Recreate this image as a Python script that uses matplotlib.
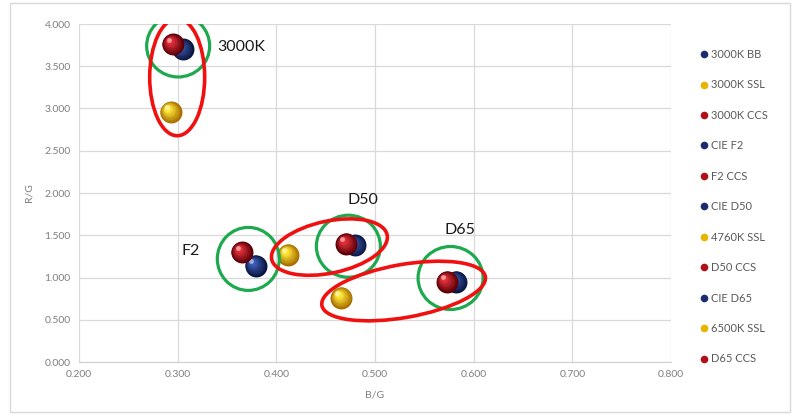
import matplotlib.pyplot as plt
import numpy as np
from matplotlib.patches import Ellipse, Rectangle
from matplotlib.lines import Line2D
from matplotlib.transforms import ScaledTranslation
from matplotlib.colors import to_rgb

plt.rcParams['font.family'] = ['Lato', 'DejaVu Sans']

# series: name, B/G, R/G, colour group
names = ['3000K BB', '3000K SSL', '3000K CCS', 'CIE F2', 'F2 CCS', 'CIE D50',
         '4760K SSL', 'D50 CCS', 'CIE D65', '6500K SSL', 'D65 CCS']
bg = [0.305, 0.293, 0.295, 0.379, 0.365, 0.480, 0.412, 0.471, 0.582, 0.466, 0.573]
rg = [3.70, 2.96, 3.76, 1.14, 1.30, 1.38, 1.27, 1.40, 0.95, 0.76, 0.95]
kind = ['bb', 'ssl', 'ccs', 'bb', 'ccs', 'bb', 'ssl', 'ccs', 'bb', 'ssl', 'ccs']

# group labels
lbl_text = ['3000K', 'F2', 'D50', 'D65']
lbl_x = [0.340, 0.313, 0.488, 0.586]
lbl_y = [3.73, 1.31, 1.92, 1.56]
lbl_ha = ['left', 'center', 'center', 'center']

# (dark, light) shades for the spheres
shades = {'bb': ('#0b1640', '#3b5bb5'),
          'ssl': ('#a86f00', '#ffe83a'),
          'ccs': ('#5a0006', '#e3303a')}
legend_col = {'bb': '#1c2c6e', 'ssl': '#e8b400', 'ccs': '#b0101a'}

fig = plt.figure(figsize=(7.95, 4.15), dpi=100)
ax = fig.add_axes([79 / 795, 53 / 415, 592 / 795, 338 / 415])

# light outer frame of the chart area
fig.patches.append(Rectangle((10 / 795, 3 / 415), 780 / 795, 409 / 415,
                             transform=fig.transFigure, fill=False,
                             edgecolor='#d9d9d9', lw=1))


def offset(dx, dy):
    # shift in points from a data position
    return ax.transData + ScaledTranslation(dx / 72, dy / 72, fig.dpi_scale_trans)


def sphere(x, y, k, r=7.9):
    dark, light = (np.array(to_rgb(c)) for c in shades[k])
    n = 10
    for i in range(n):
        t = i / (n - 1)
        col = dark * (1 - t) + light * t
        f = 1 - 0.72 * t
        ax.scatter([x], [y], s=(2 * r * f) ** 2, color=col, lw=0,
                   transform=offset(-0.3 * r * t, 0.3 * r * t), zorder=3)
    ax.scatter([x], [y], s=(2 * r * 0.22) ** 2, color='white', alpha=0.5, lw=0,
               transform=offset(-0.38 * r, 0.42 * r), zorder=3)


for x, y, k in zip(bg, rg, kind):
    sphere(x, y, k)

ax.set_xlim(0.2, 0.8)
ax.set_ylim(0, 4)
ax.set_xticks(np.arange(0.2, 0.81, 0.1))
ax.set_yticks(np.arange(0, 4.01, 0.5))
ax.xaxis.set_major_formatter(plt.FormatStrFormatter('%.3f'))
ax.yaxis.set_major_formatter(plt.FormatStrFormatter('%.3f'))
ax.tick_params(length=0, labelsize=7.5, labelcolor='#7f7f7f', pad=6)
ax.grid(True, color='#d9d9d9', lw=0.9)
ax.set_axisbelow(True)
for s in ax.spines.values():
    s.set_visible(False)
ax.spines['bottom'].set_visible(True)
ax.spines['bottom'].set_color('#d0d0d0')
ax.set_xlabel('B/G', fontsize=7.5, color='#7f7f7f', labelpad=8)
ax.set_ylabel('R/G', fontsize=7.5, color='#7f7f7f', labelpad=8)

for t, x, y, ha in zip(lbl_text, lbl_x, lbl_y, lbl_ha):
    ax.text(x, y, t, ha=ha, va='center', fontsize=11.5, color='#1a1a1a', zorder=5)


def ring(x, y, w, h, ang, col, lw):
    # ellipse sized in pixels, centred on a data point
    e = Ellipse((0, 0), w / 100, h / 100, angle=ang, fill=False, edgecolor=col,
                lw=lw, transform=fig.dpi_scale_trans + ScaledTranslation(x, y, ax.transData),
                zorder=4)
    ax.add_patch(e)


green = '#1fa94f'
red = '#f01010'
ring(0.3005, 3.74, 63, 62, 0, green, 2.3)
ring(0.3716, 1.22, 62, 63, 0, green, 2.3)
ring(0.473, 1.37, 64, 62, 0, green, 2.3)
ring(0.5766, 0.994, 65, 63, 0, green, 2.3)
ring(0.2995, 3.37, 55, 117, 0, red, 2.6)
ring(0.4538, 1.36, 118, 52, 12, red, 2.6)
ring(0.529, 0.84, 166, 53, 10, red, 2.6)

handles = [Line2D([], [], ls='none', marker='o', ms=5.5, mec='none',
                  mfc=legend_col[k]) for k in kind]
fig.legend(handles, names, loc='upper left', bbox_to_anchor=(687 / 795, 1 - 39 / 415),
           frameon=False, fontsize=8, labelspacing=1.75, handletextpad=0.05,
           handlelength=1.2, labelcolor='#595959')

fig.savefig('out.png', dpi=100)
